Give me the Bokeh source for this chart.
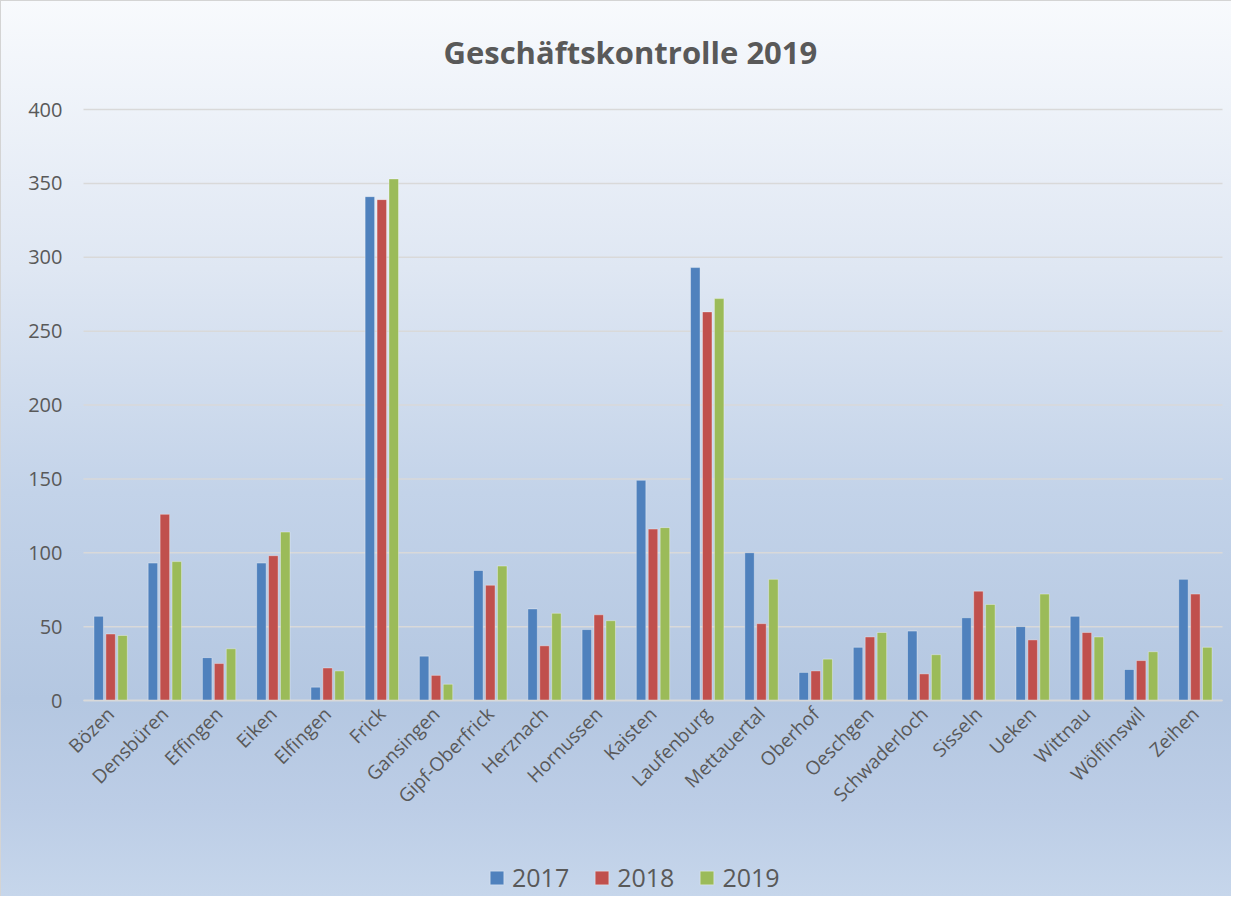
from bokeh.plotting import figure
from bokeh.models import Range1d, ColumnDataSource, Legend, LegendItem, FixedTicker
from bokeh.transform import dodge
from bokeh.embed import file_html
from bokeh.resources import INLINE
from math import pi

categories = ["Bözen", "Densbüren", "Effingen", "Eiken", "Elfingen", "Frick", "Gansingen",
              "Gipf-Oberfrick", "Herznach", "Hornussen", "Kaisten", "Laufenburg", "Mettauertal",
              "Oberhof", "Oeschgen", "Schwaderloch", "Sisseln", "Ueken", "Wittnau",
              "Wölflinswil", "Zeihen"]
v2017 = [57, 93, 29, 93, 9, 341, 30, 88, 62, 48, 149, 293, 100, 19, 36, 47, 56, 50, 57, 21, 82]
v2018 = [45, 126, 25, 98, 22, 339, 17, 78, 37, 58, 116, 263, 52, 20, 43, 18, 74, 41, 46, 27, 72]
v2019 = [44, 94, 35, 114, 20, 353, 11, 91, 59, 54, 117, 272, 82, 28, 46, 31, 65, 72, 43, 33, 36]
series = ["2017", "2018", "2019"]
colors = ["#4f81bd", "#c0504d", "#9bbb59"]
y_ticks = [0, 50, 100, 150, 200, 250, 300, 350, 400]

n = len(categories)
idx = list(range(n))
source = ColumnDataSource(data=dict(idx=idx, cat=categories, v2017=v2017, v2018=v2018, v2019=v2019))

FONT = "Open Sans"
TXT = "#595959"

# layout (pixels): plot area from x=83 to x=1222, value 400 at y=109, value 0 at y=700;
# the drawing frame itself runs from y=FRAME_TOP to the bottom of the figure
W, H = 1231, 896
LEFT, RIGHT, TOP, ZERO, FRAME_TOP = 83, 1222, 109, 700, 90
y_max = y_ticks[-1]
u_per_px = y_max / (ZERO - TOP)
y_min = -(H - ZERO) * u_per_px
y_end = y_max + (TOP - FRAME_TOP) * u_per_px
px_per_cat = (RIGHT - LEFT) / n
x_start = -0.5 - LEFT / px_per_cat
x_end = x_start + W / px_per_cat

p = figure(width=W, height=H, x_range=Range1d(x_start, x_end), y_range=Range1d(y_min, y_end),
           output_backend="svg", toolbar_location=None,
           min_border_left=0, min_border_right=0, min_border_top=FRAME_TOP, min_border_bottom=0)

p.styles = {"background": "linear-gradient(to bottom, #f8fafd 0%, #dfe7f3 30%, #c3d3e9 55%, #b4c7e1 78%, #bccde6 90%, #c6d6eb 100%)",
            "box-shadow": "inset 1px 1px 0 0 #d4d4d4"}
p.background_fill_color = None
p.border_fill_color = None
p.outline_line_color = None

p.title.text = "Geschäftskontrolle 2019"
p.title.align = "left"
p.title.text_font = FONT
p.title.text_font_style = "bold"
p.title.text_font_size = "31px"
p.title.text_color = TXT
p.title.standoff = 35
p.title.offset = 443

# horizontal grid lines over the plot area only
p.segment(x0=-0.5, x1=n - 0.5, y0=y_ticks, y1=y_ticks, line_color="#d9d9d9", line_width=1.5)
p.xgrid.grid_line_color = None
p.ygrid.grid_line_color = None

offsets = [-0.22, 0.0, 0.22]
renderers = []
for s, c, off in zip(series, colors, offsets):
    r = p.vbar(x=dodge("idx", off), top="v" + s, width=0.175, source=source,
               fill_color=c, line_color="white", line_alpha=0.35, line_width=1)
    renderers.append(r)

p.yaxis.fixed_location = -0.5
p.yaxis.ticker = FixedTicker(ticks=y_ticks)
p.yaxis.bounds = (y_ticks[0], y_ticks[-1])
p.yaxis.axis_line_color = None
p.yaxis.major_tick_line_color = None
p.yaxis.minor_tick_line_color = None
p.yaxis.major_tick_out = 0
p.yaxis.major_label_standoff = 21
p.yaxis.major_label_text_font = FONT
p.yaxis.major_label_text_font_size = "20px"
p.yaxis.major_label_text_color = TXT

p.xaxis.fixed_location = 0
p.xaxis.ticker = FixedTicker(ticks=idx)
p.xaxis.major_label_overrides = {i: c for i, c in zip(idx, categories)}
p.xaxis.bounds = (-0.5, n - 0.5)
p.xaxis.axis_line_color = "#d9d9d9"
p.xaxis.axis_line_width = 1.5
p.xaxis.major_tick_line_color = None
p.xaxis.minor_tick_line_color = None
p.xaxis.major_tick_out = 0
p.xaxis.major_label_orientation = pi / 4
p.xaxis.major_label_standoff = 10
p.xaxis.major_label_text_font = FONT
p.xaxis.major_label_text_font_size = "19px"
p.xaxis.major_label_text_color = TXT

legend = Legend(items=[LegendItem(label=s, renderers=[r]) for s, r in zip(series, renderers)],
                orientation="horizontal", location=(LEFT + 405, 2), padding=0, margin=0,
                glyph_width=17, glyph_height=17, label_standoff=7, spacing=24,
                label_text_font=FONT, label_text_font_size="25px", label_text_color=TXT,
                background_fill_alpha=0, border_line_alpha=0)
p.add_layout(legend, "center")

open("out.html", "w").write(file_html(p, INLINE))
